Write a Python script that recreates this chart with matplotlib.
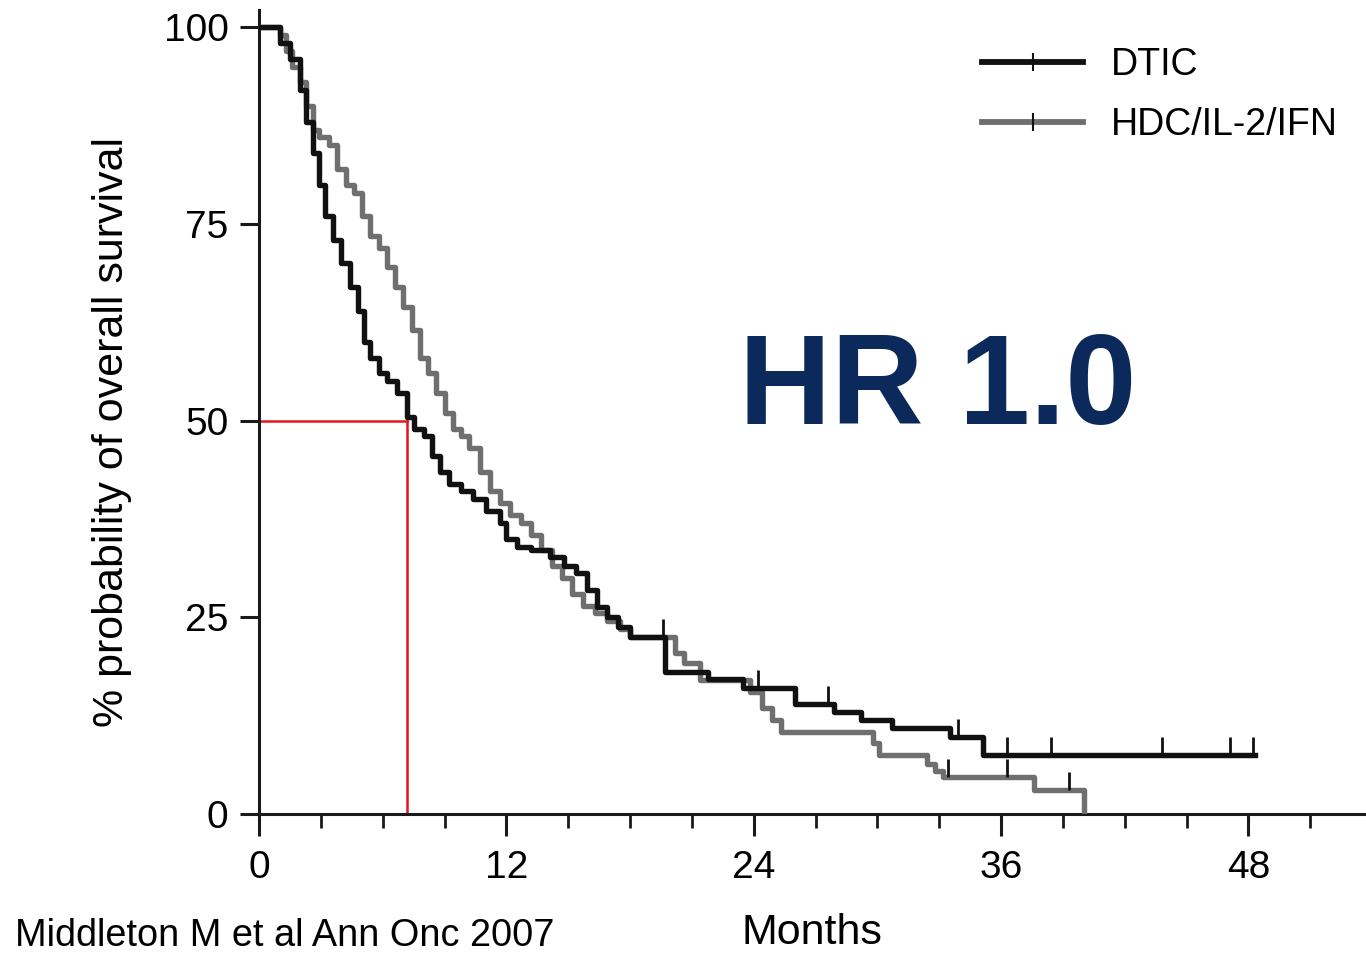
import matplotlib
matplotlib.use("Agg")
import matplotlib.pyplot as plt
from matplotlib.lines import Line2D

# Kaplan-Meier estimates
dtic_t = [0, 1.0, 1.5, 2.0, 2.3, 2.6, 2.9, 3.2, 3.6, 4.0, 4.4, 4.8, 5.1, 5.4,
          5.8, 6.2, 6.7, 7.2, 7.5, 8.0, 8.4, 8.8, 9.2, 9.8, 10.4, 11.0, 11.7,
          12.0, 12.5, 13.2, 14.1, 14.8, 15.4, 15.9, 16.4, 16.9, 17.4, 18.0,
          19.7, 21.8, 23.5, 26.0, 27.9, 29.2, 30.7, 33.5, 35.1, 48.3]
dtic_s = [100, 98, 96, 92, 88, 84, 80, 76, 73, 70, 67, 64, 60, 58,
          56, 55, 53.5, 50.5, 49, 48, 45.5, 43.5, 42, 41, 40, 38.5, 37,
          35, 34, 33.5, 32.7, 31.5, 30.6, 28.5, 26.3, 25, 23.8, 22.5,
          18, 17.2, 16.0, 14.0, 13.0, 11.9, 10.9, 9.8, 7.5, 7.5]
dtic_cens_t = [19.6, 24.2, 27.6, 33.9, 36.3, 38.4, 43.8, 47.1, 48.2]
dtic_cens_s = [22.5, 16.0, 14.0, 9.8, 7.5, 7.5, 7.5, 7.5, 7.5]

hdc_t = [0, 1.0, 1.3, 1.6, 2.0, 2.3, 2.6, 2.9, 3.4, 3.8, 4.2, 4.6, 5.0, 5.4,
         5.8, 6.2, 6.6, 7.0, 7.4, 7.8, 8.2, 8.6, 9.0, 9.4, 9.8, 10.2, 10.7,
         11.2, 11.7, 12.2, 12.7, 13.2, 13.7, 14.2, 14.7, 15.2, 15.7, 16.3,
         16.9, 17.5, 18.0, 20.2, 20.6, 21.4, 23.8, 24.4, 24.9, 25.3, 29.8,
         30.1, 32.4, 32.8, 33.2, 37.6, 40.0]
hdc_s = [100, 99, 97, 95, 93, 90, 87, 86, 85, 82, 80, 79, 76, 73.5,
         72, 69.5, 67, 64.5, 61.5, 58, 56, 53.5, 51, 49, 48, 46.5, 43.5,
         41, 39.5, 38, 37, 35.5, 33.5, 31.5, 30, 28, 26.5, 25.5,
         24.5, 23.5, 22.5, 20.5, 19.2, 17.0, 15.5, 13.5, 12.0, 10.4, 9.0,
         7.5, 6.3, 5.5, 4.7, 3.0, 0]
hdc_cens_t = [33.4, 36.3, 39.3]
hdc_cens_s = [4.7, 4.7, 3.0]

median_dtic = 7.2
x_ticks = [0, 12, 24, 36, 48]
y_ticks = [0, 25, 50, 75, 100]

BLACK = "#111111"
GREY = "#6f6f6f"
RED = "#e8141c"
NAVY = "#0b2a5b"

plt.rcParams["font.family"] = ["Liberation Sans", "DejaVu Sans"]

fig = plt.figure(figsize=(13.66, 9.56), dpi=100)
fig.patch.set_facecolor("white")
ax = fig.add_axes([259 / 1366, 1 - 814 / 956, 1 - 259 / 1366, (814 - 10) / 956])
ax.set_xlim(0, 53.7)
ax.set_ylim(0, 102.2)

# median lines
ax.plot([0, median_dtic], [50, 50], color=RED, lw=1.8, zorder=2)
ax.plot([median_dtic, median_dtic], [0, 50], color=RED, lw=1.8, zorder=2)

ax.step(hdc_t, hdc_s, where="post", color=GREY, lw=3.9, zorder=3)
ax.step(dtic_t, dtic_s, where="post", color=BLACK, lw=3.9, zorder=4)
ax.vlines(hdc_cens_t, hdc_cens_s, [s + 2.3 for s in hdc_cens_s],
          color=BLACK, lw=2.0, zorder=5)
ax.vlines(dtic_cens_t, dtic_cens_s, [s + 2.3 for s in dtic_cens_s],
          color=BLACK, lw=2.0, zorder=5)

for side in ["top", "right"]:
    ax.spines[side].set_visible(False)
for side in ["left", "bottom"]:
    ax.spines[side].set_linewidth(2.2)
    ax.spines[side].set_color("#1a1a1a")

ax.set_xticks(x_ticks)
ax.set_xticks(range(0, 54, 3), minor=True)
ax.set_yticks(y_ticks)
ax.tick_params(axis="x", which="major", direction="out", length=16, width=2.2,
               labelsize=28, pad=10, color="#1a1a1a")
ax.tick_params(axis="x", which="minor", direction="out", length=10, width=2.0,
               color="#1a1a1a")
ax.tick_params(axis="y", which="major", direction="out", length=14, width=2.2,
               labelsize=28, pad=8, color="#1a1a1a")

fig.text(112 / 1366, 1 - 432 / 956, "% probability of overall survival",
         rotation=90, ha="center", va="center", fontsize=31)
fig.text(812 / 1366, 1 - 933 / 956, "Months", ha="center", va="center",
         fontsize=31)
fig.text(15 / 1366, 1 - 936 / 956, "Middleton M et al Ann Onc 2007",
         ha="left", va="center", fontsize=27.3)

ax.text(32.9, 53.8, "HR 1.0", ha="center", va="center", fontsize=92,
        fontweight="bold", color=NAVY)

handles = [
    Line2D([], [], color=BLACK, lw=4.2, marker="|", markersize=13,
           markeredgewidth=1.5, markeredgecolor=BLACK),
    Line2D([], [], color=GREY, lw=4.2, marker="|", markersize=13,
           markeredgewidth=1.5, markeredgecolor=BLACK),
]
fig.legend(handles, ["DTIC", "HDC/IL-2/IFN"], loc="center left",
           bbox_to_anchor=(982 / 1366, 1 - 95 / 956), frameon=False,
           fontsize=27, handlelength=2.7, handletextpad=0.75,
           labelspacing=0.62, borderpad=0, borderaxespad=0, numpoints=1)

fig.savefig("out.png", dpi=100, facecolor="white")
